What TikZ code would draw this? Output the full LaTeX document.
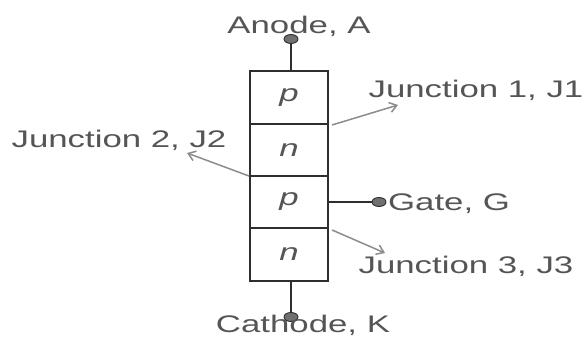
\documentclass[tikz,border=0pt]{standalone}
\usepackage{graphicx}
\usepackage{fontspec}
\setmainfont{Liberation Sans}
\usetikzlibrary{arrows.meta,shapes.geometric}
\definecolor{txt}{HTML}{555555}
\definecolor{ln}{HTML}{2E2E2E}
\definecolor{arr}{HTML}{8C8C8C}
\definecolor{term}{HTML}{707070}
\newcommand{\wide}[1]{\scalebox{1.45}[1]{#1}}
\tikzset{
  label text/.style={font=\fontsize{24}{24}\selectfont, text=txt, inner sep=0pt, anchor=center},
  layer/.style={draw=ln, line width=1.7pt, minimum width=78.5pt, minimum height=52.5pt, inner sep=0pt, outer sep=0pt, font=\fontsize{24}{24}\selectfont\itshape, text=txt},
  terminal/.style={ellipse, draw=ln, fill=term, line width=0.9pt, minimum width=14pt, minimum height=9pt, inner sep=0pt},
  wire/.style={draw=ln, line width=1.7pt},
  pointer/.style={draw=arr, line width=1.5pt, -{Straight Barb[length=7pt,width=10pt]}}
}
\begin{document}
\begin{tikzpicture}[x=1pt,y=-1pt]
\useasboundingbox (0,0) rectangle (584,337);
\node[layer] (l1) at (289,97.5) {\wide{p}};
\node[layer] (l2) at (289,150) {\wide{n}};
\node[layer] (l3) at (289,202) {\wide{p}};
\node[layer] (l4) at (289,254.5) {\wide{n}};
\node[terminal] (a) at (291,39) {};
\node[terminal] (k) at (291,317) {};
\node[terminal] (g) at (379,202) {};
\draw[wire] (a) -- (291,71);
\draw[wire] (291,281) -- (k);
\draw[wire, line width=1.3pt] (l3.east) -- (g);
\node[label text] (ta) at (299,26.5) {\wide{Anode, A}};
\node[label text] (tk) at (303,325) {\wide{Cathode, K}};
\node[label text] (tg) at (449,203.5) {\wide{Gate, G}};
\node[label text] (t1) at (476,90) {\wide{Junction 1, J1}};
\node[label text] (t2) at (119,140) {\wide{Junction 2, J2}};
\node[label text] (t3) at (466,266) {\wide{Junction 3, J3}};
\coordinate (s1) at (332,125);
\coordinate (e1) at (398,105);
\coordinate (s2) at (249,176);
\coordinate (e2) at (187,153);
\coordinate (s3) at (332,230);
\coordinate (e3) at (385,253);
\draw[pointer] (s1) -- (e1);
\draw[pointer] (s2) -- (e2);
\draw[pointer] (s3) -- (e3);
\end{tikzpicture}
\end{document}
